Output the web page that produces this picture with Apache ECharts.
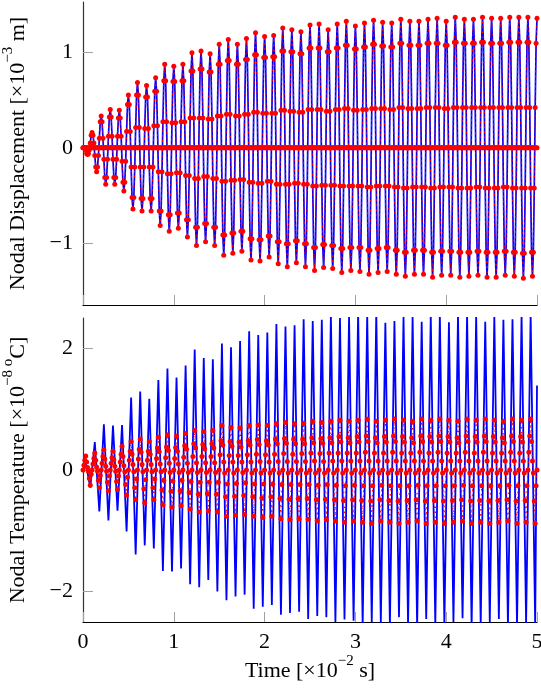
<!DOCTYPE html>
<html><head><meta charset="utf-8">
<script src="https://cdn.jsdelivr.net/npm/echarts@6/dist/echarts.min.js"></script>
<style>html,body{margin:0;padding:0;background:#fff}#c{width:541px;height:688px}</style>
</head><body><div id="c"></div>
<script>
// ---------- data ----------
const timeStep = 0.01;          // sampling step of the marked series [x10^-2 s]
const period = 0.1;             // cycle length of the temperature extrema list
const timeTicks = [0, 1, 2, 3, 4, 5];
const dispTicks = [-1, 0, 1];
const tempTicks = [-2, 0, 2];

// Nodal displacement of the loaded node, one value per time step (x10^-3 m)
const dispNode = [
 0,0,0,-0.02,-0.06,-0.07,-0.06,-0.02,0.05,0.13,
 0.16,0.13,0.05,-0.08,-0.20,-0.25,-0.20,-0.08,0.10,0.27,
 0.33,0.27,0.10,-0.12,-0.31,-0.38,-0.31,-0.12,0.12,0.32,
 0.40,0.32,0.12,-0.12,-0.31,-0.38,-0.31,-0.12,0.12,0.31,
 0.39,0.31,0.12,-0.14,-0.36,-0.45,-0.36,-0.14,0.17,0.45,
 0.55,0.45,0.17,-0.20,-0.52,-0.64,-0.52,-0.20,0.21,0.55,
 0.68,0.55,0.21,-0.20,-0.53,-0.66,-0.53,-0.20,0.20,0.53,
 0.65,0.53,0.20,-0.20,-0.53,-0.66,-0.53,-0.20,0.23,0.59,
 0.73,0.59,0.23,-0.25,-0.66,-0.81,-0.66,-0.25,0.27,0.70,
 0.87,0.70,0.27,-0.27,-0.70,-0.87,-0.70,-0.27,0.26,0.69,
 0.85,0.69,0.26,-0.26,-0.68,-0.84,-0.68,-0.26,0.27,0.70,
 0.87,0.70,0.27,-0.29,-0.75,-0.93,-0.75,-0.29,0.31,0.80,
 0.99,0.80,0.31,-0.32,-0.83,-1.02,-0.83,-0.32,0.31,0.82,
 1.01,0.82,0.31,-0.30,-0.79,-0.98,-0.79,-0.30,0.30,0.79,
 0.98,0.79,0.30,-0.32,-0.83,-1.02,-0.83,-0.32,0.33,0.87,
 1.08,0.87,0.33,-0.35,-0.91,-1.12,-0.91,-0.35,0.35,0.91,
 1.13,0.91,0.35,-0.34,-0.89,-1.10,-0.89,-0.34,0.33,0.87,
 1.08,0.87,0.33,-0.33,-0.87,-1.08,-0.87,-0.33,0.35,0.92,
 1.14,0.92,0.35,-0.36,-0.95,-1.17,-0.95,-0.36,0.37,0.97,
 1.20,0.97,0.37,-0.37,-0.96,-1.18,-0.96,-0.37,0.36,0.94,
 1.16,0.94,0.36,-0.35,-0.92,-1.14,-0.92,-0.35,0.36,0.95,
 1.17,0.95,0.36,-0.38,-0.98,-1.21,-0.98,-0.38,0.39,1.01,
 1.25,1.01,0.39,-0.38,-1.00,-1.24,-1.00,-0.38,0.38,1.00,
 1.23,1.00,0.38,-0.37,-0.97,-1.20,-0.97,-0.37,0.37,0.98,
 1.21,0.98,0.37,-0.38,-1.00,-1.24,-1.00,-0.38,0.40,1.04,
 1.28,1.04,0.40,-0.40,-1.04,-1.28,-1.04,-0.40,0.40,1.04,
 1.29,1.04,0.40,-0.39,-1.01,-1.25,-1.01,-0.39,0.38,1.00,
 1.23,1.00,0.38,-0.39,-1.02,-1.26,-1.02,-0.39,0.40,1.04,
 1.29,1.04,0.40,-0.40,-1.05,-1.30,-1.05,-0.40,0.41,1.07,
 1.32,1.07,0.41,-0.40,-1.04,-1.28,-1.04,-0.40,0.39,1.03,
 1.27,1.03,0.39,-0.40,-1.04,-1.29,-1.04,-0.40,0.40,1.05,
 1.30,1.05,0.40,-0.41,-1.07,-1.32,-1.07,-0.41,0.41,1.08,
 1.33,1.08,0.41,-0.40,-1.05,-1.30,-1.05,-0.40,0.41,1.06,
 1.31,1.06,0.41,-0.40,-1.04,-1.29,-1.04,-0.40,0.40,1.05,
 1.30,1.05,0.40,-0.41,-1.07,-1.32,-1.07,-0.41,0.42,1.09,
 1.34,1.09,0.42,-0.42,-1.09,-1.34,-1.09,-0.42,0.41,1.07,
 1.32,1.07,0.41,-0.41,-1.07,-1.32,-1.07,-0.41,0.41,1.07,
 1.32,1.07,0.41,-0.41,-1.07,-1.32,-1.07,-0.41,0.42,1.09,
 1.34,1.09,0.42,-0.42,-1.09,-1.35,-1.09,-0.42,0.42,1.09,
 1.35,1.09,0.42,-0.41,-1.08,-1.33,-1.08,-0.41,0.41,1.07,
 1.32,1.07,0.41,-0.41,-1.08,-1.33,-1.08,-0.41,0.42,1.10,
 1.36,1.10,0.42,-0.42,-1.09,-1.35,-1.09,-0.42,0.42,1.09,
 1.34,1.09,0.42,-0.42,-1.09,-1.34,-1.09,-0.42,0.42,1.09,
 1.34,1.09,0.42,-0.41,-1.08,-1.33,-1.08,-0.41,0.42,1.10,
 1.36,1.10,0.42,-0.42,-1.09,-1.35,-1.09,-0.42,0.42,1.09,
 1.35,1.09,0.42,-0.42,-1.09,-1.35,-1.09,-0.42,0.42,1.09,
 1.35,1.09,0.42,-0.41,-1.08,-1.33,-1.08,-0.41,0.42,1.10,
 1.36,1.10,0.42,-0.42,-1.09,-1.34,-1.09,-0.42,0.42,1.10,
 1.36,1.10,0.42,-0.42,-1.10,-1.36,-1.10,-0.42,0.42,1.10,
 1.36,1.10,0.42,-0.42,-1.09,-1.34,-1.09,-0.42,0.42,1.09,
 1.35
];

// Nodal displacement of the fixed node (stays at zero), one value per time step
const dispFixedNode = [
 0,0,0,0,0,0,0,0,0,0,0,0,0,0,0,0,0,0,0,0,0,0,0,0,0,0,0,0,0,0,0,0,0,0,0,0,0,0,0,0,0,0,0,0,0,0,0,0,0,0,
 0,0,0,0,0,0,0,0,0,0,0,0,0,0,0,0,0,0,0,0,0,0,0,0,0,0,0,0,0,0,0,0,0,0,0,0,0,0,0,0,0,0,0,0,0,0,0,0,0,0,
 0,0,0,0,0,0,0,0,0,0,0,0,0,0,0,0,0,0,0,0,0,0,0,0,0,0,0,0,0,0,0,0,0,0,0,0,0,0,0,0,0,0,0,0,0,0,0,0,0,0,
 0,0,0,0,0,0,0,0,0,0,0,0,0,0,0,0,0,0,0,0,0,0,0,0,0,0,0,0,0,0,0,0,0,0,0,0,0,0,0,0,0,0,0,0,0,0,0,0,0,0,
 0,0,0,0,0,0,0,0,0,0,0,0,0,0,0,0,0,0,0,0,0,0,0,0,0,0,0,0,0,0,0,0,0,0,0,0,0,0,0,0,0,0,0,0,0,0,0,0,0,0,
 0,0,0,0,0,0,0,0,0,0,0,0,0,0,0,0,0,0,0,0,0,0,0,0,0,0,0,0,0,0,0,0,0,0,0,0,0,0,0,0,0,0,0,0,0,0,0,0,0,0,
 0,0,0,0,0,0,0,0,0,0,0,0,0,0,0,0,0,0,0,0,0,0,0,0,0,0,0,0,0,0,0,0,0,0,0,0,0,0,0,0,0,0,0,0,0,0,0,0,0,0,
 0,0,0,0,0,0,0,0,0,0,0,0,0,0,0,0,0,0,0,0,0,0,0,0,0,0,0,0,0,0,0,0,0,0,0,0,0,0,0,0,0,0,0,0,0,0,0,0,0,0,
 0,0,0,0,0,0,0,0,0,0,0,0,0,0,0,0,0,0,0,0,0,0,0,0,0,0,0,0,0,0,0,0,0,0,0,0,0,0,0,0,0,0,0,0,0,0,0,0,0,0,
 0,0,0,0,0,0,0,0,0,0,0,0,0,0,0,0,0,0,0,0,0,0,0,0,0,0,0,0,0,0,0,0,0,0,0,0,0,0,0,0,0,0,0,0,0,0,0,0,0,0,
 0
];

// Nodal temperature (blue curve): extrema of each cycle (x10^-8 degC)
const tempPeakOffset = 0.03;    // peak position within a cycle
const tempTroughOffset = 0.08;  // trough position within a cycle
const tempPeaks = [
 0.12,0.46,0.75,0.73,0.74,1.19,1.29,1.17,1.48,1.67,
 1.52,1.72,1.98,1.84,1.82,2.08,2.02,2.12,2.28,2.22,
 2.26,2.40,2.36,2.38,2.48,2.45,2.47,2.55,2.50,2.52,
 2.60,2.55,2.58,2.42,2.45,2.52,2.52,2.44,2.55,2.55,
 2.43,2.55,2.56,2.54,2.44,2.53,2.47,2.48,2.55,2.55
];
const tempTroughs = [
 -0.29,-0.68,-0.83,-0.67,-1.01,-1.39,-1.24,-1.29,-1.66,-1.67,
 -1.62,-1.88,-1.93,-1.81,-2.00,-2.14,-2.08,-2.05,-2.28,-2.25,
 -2.22,-2.38,-2.35,-2.33,-2.45,-2.40,-2.42,-2.50,-2.46,-2.48,
 -2.55,-2.50,-2.52,-2.55,-2.42,-2.55,-2.58,-2.45,-2.55,-2.56,
 -2.50,-2.44,-2.58,-2.55,-2.50,-2.45,-2.57,-2.55,-2.52,-2.56
];
const tempStart = 0;
const tempEnd = 1.39;

// Nodal temperature (red marked series), one value per time step
const tempRed = [
 0,0.08,0.16,0.23,0.13,0.04,-0.02,-0.14,-0.25,-0.07,
 0,0.10,0.19,0.28,0.16,0.05,-0.02,-0.17,-0.29,-0.09,
 0,0.11,0.22,0.33,0.18,0.06,-0.02,-0.20,-0.34,-0.10,
 0,0.11,0.20,0.31,0.17,0.06,-0.02,-0.19,-0.32,-0.10,
 0,0.13,0.26,0.39,0.22,0.07,-0.03,-0.24,-0.41,-0.12,
 0,0.16,0.31,0.47,0.26,0.09,-0.03,-0.29,-0.49,-0.15,
 0,0.18,0.34,0.51,0.29,0.09,-0.03,-0.31,-0.54,-0.16,
 0,0.16,0.31,0.47,0.26,0.09,-0.03,-0.29,-0.49,-0.15,
 0,0.19,0.36,0.54,0.30,0.10,-0.03,-0.33,-0.57,-0.17,
 0,0.20,0.38,0.58,0.32,0.11,-0.04,-0.35,-0.61,-0.18,
 0,0.19,0.37,0.56,0.31,0.10,-0.04,-0.34,-0.59,-0.17,
 0,0.21,0.40,0.60,0.34,0.11,-0.04,-0.37,-0.64,-0.19,
 0,0.22,0.43,0.65,0.36,0.12,-0.04,-0.40,-0.69,-0.20,
 0,0.22,0.42,0.63,0.35,0.12,-0.04,-0.39,-0.67,-0.20,
 0,0.22,0.43,0.65,0.36,0.12,-0.04,-0.40,-0.69,-0.20,
 0,0.25,0.48,0.73,0.41,0.13,-0.05,-0.44,-0.76,-0.23,
 0,0.24,0.47,0.70,0.39,0.13,-0.05,-0.43,-0.74,-0.22,
 0,0.24,0.46,0.69,0.38,0.13,-0.04,-0.42,-0.73,-0.21,
 0,0.25,0.48,0.73,0.41,0.13,-0.05,-0.44,-0.76,-0.23,
 0,0.26,0.50,0.74,0.42,0.14,-0.05,-0.46,-0.78,-0.23,
 0,0.25,0.48,0.73,0.41,0.13,-0.05,-0.44,-0.76,-0.23,
 0,0.26,0.51,0.76,0.43,0.14,-0.05,-0.47,-0.80,-0.24,
 0,0.27,0.52,0.78,0.44,0.14,-0.05,-0.48,-0.82,-0.24,
 0,0.26,0.51,0.76,0.43,0.14,-0.05,-0.47,-0.80,-0.24,
 0,0.27,0.51,0.77,0.43,0.14,-0.05,-0.47,-0.81,-0.24,
 0,0.28,0.53,0.80,0.45,0.15,-0.05,-0.49,-0.84,-0.25,
 0,0.27,0.52,0.78,0.44,0.14,-0.05,-0.48,-0.82,-0.24,
 0,0.28,0.53,0.80,0.45,0.15,-0.05,-0.49,-0.84,-0.25,
 0,0.28,0.55,0.82,0.46,0.15,-0.05,-0.50,-0.86,-0.26,
 0,0.28,0.53,0.80,0.45,0.15,-0.05,-0.49,-0.84,-0.25,
 0,0.28,0.55,0.82,0.46,0.15,-0.05,-0.50,-0.86,-0.26,
 0,0.29,0.56,0.84,0.47,0.15,-0.05,-0.51,-0.88,-0.26,
 0,0.28,0.53,0.80,0.45,0.15,-0.05,-0.49,-0.84,-0.25,
 0,0.28,0.55,0.82,0.46,0.15,-0.05,-0.50,-0.86,-0.26,
 0,0.29,0.56,0.84,0.47,0.15,-0.05,-0.51,-0.88,-0.26,
 0,0.28,0.55,0.82,0.46,0.15,-0.05,-0.50,-0.86,-0.26,
 0,0.28,0.53,0.80,0.45,0.15,-0.05,-0.49,-0.84,-0.25,
 0,0.29,0.56,0.84,0.47,0.15,-0.05,-0.51,-0.88,-0.26,
 0,0.28,0.55,0.82,0.46,0.15,-0.05,-0.50,-0.86,-0.26,
 0,0.29,0.56,0.84,0.47,0.15,-0.05,-0.51,-0.88,-0.26,
 0,0.28,0.55,0.82,0.46,0.15,-0.05,-0.50,-0.86,-0.26,
 0,0.28,0.53,0.80,0.45,0.15,-0.05,-0.49,-0.84,-0.25,
 0,0.29,0.56,0.84,0.47,0.15,-0.05,-0.51,-0.88,-0.26,
 0,0.28,0.55,0.82,0.46,0.15,-0.05,-0.50,-0.86,-0.26,
 0,0.29,0.56,0.84,0.47,0.15,-0.05,-0.51,-0.88,-0.26,
 0,0.28,0.55,0.82,0.46,0.15,-0.05,-0.50,-0.86,-0.26,
 0,0.28,0.53,0.80,0.45,0.15,-0.05,-0.49,-0.84,-0.25,
 0,0.29,0.56,0.84,0.47,0.15,-0.05,-0.51,-0.88,-0.26,
 0,0.28,0.55,0.82,0.46,0.15,-0.05,-0.50,-0.86,-0.26,
 0,0.29,0.56,0.84,0.47,0.15,-0.05,-0.51,-0.88,-0.26,
 0
];

// ---------- build ----------
const FONT = "'Liberation Serif','Times New Roman',serif";
const BLUE = '#0000ff', RED = '#ff0000';
const pairs = (vals) => vals.map((v, i) => [Math.round(i * timeStep * 1000) / 1000, v]);

const tempBlue = [[0, tempStart]];
tempPeaks.forEach((v, k) => {
  tempBlue.push([k * period + tempPeakOffset, v]);
  tempBlue.push([k * period + tempTroughOffset, tempTroughs[k]]);
});
tempBlue.push([timeTicks[timeTicks.length - 1], tempEnd]);

const minus = (v) => (v < 0 ? '\u2212' + Math.abs(v) : String(v));
const rich = {
  n: { fontFamily: FONT, fontSize: 22, color: '#000', lineHeight: 28, verticalAlign: 'bottom' },
  s: { fontFamily: FONT, fontSize: 15, color: '#000', lineHeight: 28, verticalAlign: 'top' }
};
const xAxisBase = (gridIndex, showLabels) => ({
  type: 'value', gridIndex, min: 0, max: 5, interval: 1,
  axisLine: { show: true, onZero: false, lineStyle: { color: '#000', width: 1.2 } },
  axisTick: { show: true, inside: true, length: 10, lineStyle: { color: '#a0a0a0', width: 1 } },
  axisLabel: { show: showLabels, fontFamily: FONT, fontSize: 22, color: '#000', margin: 9, formatter: minus },
  splitLine: { show: false },
  name: showLabels ? '{n|Time [\u00d710}{s|\u22122}{n| s]}' : '',
  nameLocation: 'middle', nameGap: 32,
  nameTextStyle: { rich }
});
const yAxisBase = (gridIndex, min, max, ticks, name) => ({
  type: 'value', gridIndex, min, max,
  axisLine: { show: true, onZero: false, lineStyle: { color: '#333', width: 1.2 } },
  axisTick: { show: true, inside: true, length: 10, customValues: ticks, lineStyle: { color: '#a0a0a0', width: 1 } },
  axisLabel: { fontFamily: FONT, fontSize: 22, color: '#000', margin: 10, customValues: ticks, formatter: minus },
  splitLine: { show: false },
  name, nameLocation: 'middle', nameGap: 54, nameRotate: 90,
  nameTextStyle: { rich }
});

const markerSeries = (name, data, xi, yi, withLine) => ({
  name, type: 'line', xAxisIndex: xi, yAxisIndex: yi, data,
  symbol: 'circle', symbolSize: 5, showAllSymbol: true,
  itemStyle: { color: RED },
  lineStyle: withLine ? { color: RED, width: 1.1, type: [1.5, 3.5] } : { width: 0, opacity: 0 },
  animation: false, z: 4
});

const option = {
  animation: false,
  backgroundColor: '#fff',
  grid: [
    { left: 83, right: 4, top: 2, height: 303, outerBoundsMode: 'none', containLabel: false },
    { left: 83, right: 4, top: 318, height: 304, outerBoundsMode: 'none', containLabel: false }
  ],
  xAxis: [xAxisBase(0, false), xAxisBase(1, true)],
  yAxis: [
    yAxisBase(0, -1.64, 1.52, dispTicks, '{n|Nodal Displacement [\u00d710}{s|\u22123}{n| m]}'),
    yAxisBase(1, -2.5, 2.5, tempTicks, '{n|Nodal Temperature [\u00d710}{s|\u22128 o}{n|C]}')
  ],
  series: [
    { type: 'line', xAxisIndex: 0, yAxisIndex: 0, data: pairs(dispNode), showSymbol: false,
      lineStyle: { color: BLUE, width: 1.7 }, z: 2 },
    markerSeries('dispFixed', pairs(dispFixedNode), 0, 0, false),
    markerSeries('dispNode', pairs(dispNode), 0, 0, true),
    { type: 'line', xAxisIndex: 1, yAxisIndex: 1, data: tempBlue, showSymbol: false,
      lineStyle: { color: BLUE, width: 1.8 }, z: 2 },
    markerSeries('tempNode', pairs(tempRed), 1, 1, true)
  ]
};
const chart = echarts.init(document.getElementById('c'));
chart.setOption(option);
</script>
</body></html>
